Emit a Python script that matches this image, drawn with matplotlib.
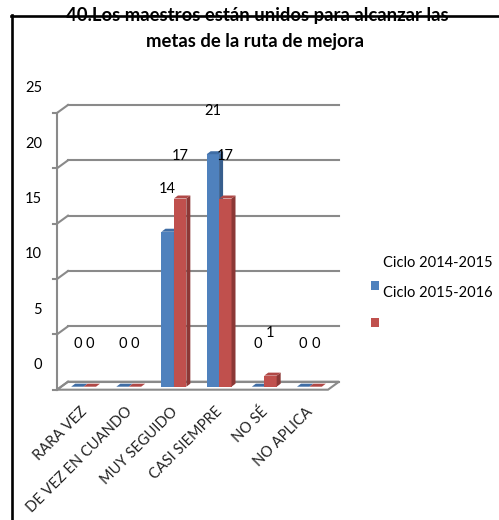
import matplotlib
matplotlib.use("Agg")
import matplotlib.pyplot as plt
from matplotlib.patches import Polygon, Patch, Rectangle
from matplotlib.lines import Line2D
from matplotlib.legend_handler import HandlerPatch

# ---- data ----
categories = ["RARA VEZ", "DE VEZ EN CUANDO", "MUY SEGUIDO", "CASI SIEMPRE", "NO SÉ", "NO APLICA"]
ciclo_2014_2015 = [0, 0, 14, 21, 0, 0]
ciclo_2015_2016 = [0, 0, 17, 17, 1, 0]
legend_labels = ["Ciclo 2014-2015", "Ciclo 2015-2016", ""]
y_ticks = [0, 5, 10, 15, 20, 25]
title_lines = ["40.Los maestros están unidos para alcanzar las", "metas de la ruta de mejora"]

# ---- style ----
DPI = 100
W, H = 4.99, 5.20
BLUE, BLUE_SIDE, BLUE_TOP = "#4F81BD", "#375E8D", "#3F6DA5"
RED, RED_SIDE, RED_TOP = "#C0504D", "#8C3836", "#B04846"
GRID = "#8A8A8A"
FS = 10.5
plt.rcParams["font.family"] = ["Lato", "DejaVu Sans"]

fig = plt.figure(figsize=(W, H), dpi=DPI)
AX_RECT = [0.12224, 0.25635, 0.54309, 0.53221]
ax = fig.add_axes(AX_RECT)
ax.set_xlim(-0.5, len(categories) - 0.5)
ax.set_ylim(0, 25)
ax.axis("off")

# data units per screen pixel
px_x = len(categories) / (W * DPI * AX_RECT[2])
px_y = 25 / (H * DPI * AX_RECT[3])


def shift(dx, dy):
    return dx * px_x, dy * px_y


fx, fy = shift(-4, -3)   # front plane of the box
bx, by = shift(7, 5)     # back wall
x_lo, x_hi = -0.5, len(categories) - 0.5

# floor slab
floor = Polygon([(x_lo + fx, fy), (x_hi + fx, fy), (x_hi + bx, by), (x_lo + bx, by)],
                closed=True, facecolor="white", edgecolor=GRID, lw=1.5, zorder=1, clip_on=False)
ax.add_patch(floor)

# back wall grid, left wall diagonals, ticks and labels
for v in y_ticks:
    ax.plot([x_lo + bx, x_hi + bx], [v + by, v + by], color=GRID, lw=1.5, zorder=1, clip_on=False)
    ax.plot([x_lo + fx, x_lo + bx], [v + fy, v + by], color=GRID, lw=1.5, zorder=1, clip_on=False)
    ax.plot([x_lo + fx - 4 * px_x, x_lo + fx], [v + fy, v + fy], color=GRID, lw=1.5, zorder=1, clip_on=False)
    ax.text(x_lo - 19 * px_x, v + 21.5 * px_y, str(v), ha="right", va="center", fontsize=FS, color="black")
ax.plot([x_lo + fx, x_lo + fx], [fy, 25 + fy], color=GRID, lw=1.5, zorder=1, clip_on=False)

# bars with a shallow 3D look
w = 0.275
ddx, ddy = shift(4, 3)
x = list(range(len(categories)))
series = [
    (ciclo_2014_2015, -w / 2, BLUE, BLUE_SIDE, BLUE_TOP),
    (ciclo_2015_2016, w / 2, RED, RED_SIDE, RED_TOP),
]
for i in x:
    for vals, dx, c, cs, ct in series:
        v = vals[i]
        bars = ax.bar([i + dx], [v], w, color=c, zorder=3, clip_on=False, linewidth=0)
        p = bars.patches[0]
        x0, x1, h = p.get_x(), p.get_x() + p.get_width(), p.get_height()
        ax.add_patch(Polygon([(x1, 0), (x1 + ddx, ddy), (x1 + ddx, h + ddy), (x1, h)],
                             closed=True, facecolor=cs, edgecolor="none", zorder=3, clip_on=False))
        ax.add_patch(Polygon([(x0, h), (x1, h), (x1 + ddx, h + ddy), (x0 + ddx, h + ddy)],
                             closed=True, facecolor=ct, edgecolor="none", zorder=3, clip_on=False))
        ax.annotate(str(v), (i + dx, v), xytext=(0, 43), textcoords="offset pixels",
                    ha="center", va="center", fontsize=FS, color="black", zorder=5)

# category labels
for i, cat in enumerate(categories):
    ax.annotate(cat, (i, 0), xytext=(-3.5, -18), textcoords="offset pixels",
                rotation=45, rotation_mode="anchor", ha="right", va="top",
                fontsize=FS, color="#222222")


# legend: the blue key sits a little higher than its row
def raised_key(legend, orig_handle, xdescent, ydescent, width, height, fontsize):
    return Rectangle((-xdescent, -ydescent + 5.0), width, height)


handles = [Patch(facecolor="none", edgecolor="none"), Patch(facecolor=BLUE), Patch(facecolor=RED)]
fig.legend(handles, legend_labels, loc="upper left", bbox_to_anchor=(371 / 499, 1 - 256 / 520),
           frameon=False, fontsize=FS, handlelength=0.55, handleheight=0.55,
           handletextpad=0.3, labelspacing=1.12, borderpad=0, borderaxespad=0,
           handler_map={handles[1]: HandlerPatch(patch_func=raised_key)})

# title
fig.text(257 / 499, 1 - 21 / 520, title_lines[0], ha="center", va="baseline",
         fontsize=13.3, fontweight="bold")
fig.text(255 / 499, 1 - 47 / 520, title_lines[1], ha="center", va="baseline",
         fontsize=13.3, fontweight="bold")

# outer frame (top and left edges)
fig.add_artist(Line2D([11 / 499, 1], [1 - 15.5 / 520, 1 - 15.5 / 520], transform=fig.transFigure,
                      color="black", lw=1.9))
fig.add_artist(Line2D([12 / 499, 12 / 499], [1 - 14.5 / 520, 0], transform=fig.transFigure,
                      color="black", lw=1.9))

fig.savefig("out.png", dpi=DPI)
